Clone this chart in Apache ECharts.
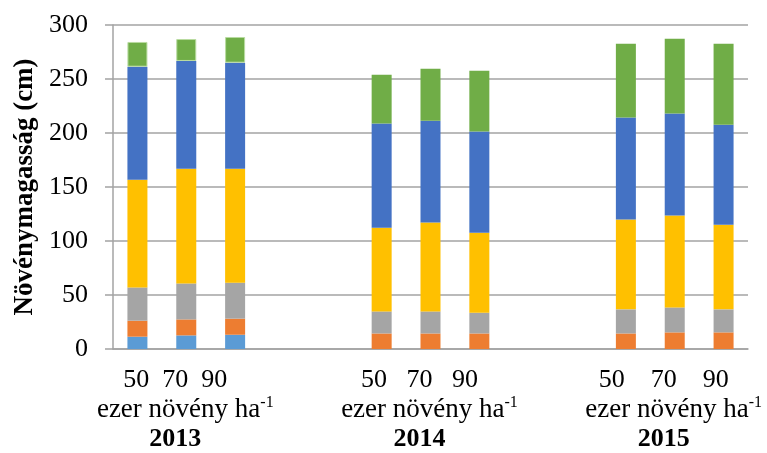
<!DOCTYPE html>
<html>
<head>
<meta charset="utf-8">
<script src="https://cdn.jsdelivr.net/npm/echarts@6/dist/echarts.min.js"></script>
<style>
  html, body { margin: 0; padding: 0; background: #ffffff; }
  #chart { width: 767px; height: 453px; }
</style>
</head>
<body>
<div id="chart"></div>
<script>
// Years and plant densities (thousand plants per hectare)
const years = ['2013', '2014', '2015'];
const densities = ['50', '70', '90'];
const densitySpacing = [2, 3, 4]; // spaces between the density numbers under each year
const unitLabel = 'ezer növény ha';
const unitExponent = '-1';
const yTicks = [0, 50, 100, 150, 200, 250, 300];
const yTitle = 'Növénymagasság (cm)';

// Stacked segment heights (cm): 50/70/90 for 2013, then 2014, then 2015
const stage1 = [11.4, 12.6, 13.2, null, null, null, null, null, null];
const stage2 = [14.8, 14.8, 14.9, 14.4, 14.4, 14.4, 14.4, 15.4, 15.4];
const stage3 = [30.8, 33.3, 33.3, 20.4, 20.4, 19.2, 22.3, 23.1, 21.3];
const stage4 = [99.8, 106.2, 105.5, 77.5, 82.4, 74.1, 83.3, 85.2, 78.4];
const stage5 = [104.6, 99.8, 98.2, 96.6, 94.2, 93.8, 94.4, 94.4, 92.6];
const stage6 = [22.9, 20.3, 23.8, 45.1, 48.1, 56.2, 68.3, 69.2, 75.0];

const stageColors = ['#5B9BD5', '#ED7D31', '#A5A5A5', '#FFC000', '#4472C4', '#70AD47'];

// Each year occupies 3 slots, separated by 2 empty slots
const GAP = 2;
const slotCount = years.length * densities.length + (years.length - 1) * GAP;
const slotOf = (g, i) => g * (densities.length + GAP) + i;

function toSlots(values) {
  const out = new Array(slotCount).fill(null);
  years.forEach((y, g) => densities.forEach((d, i) => {
    out[slotOf(g, i)] = values[g * densities.length + i];
  }));
  return out;
}

// Category labels: one text block under the middle bar of each year
const categories = new Array(slotCount).fill(0).map((_, k) => 'slot' + k);
const labelText = new Array(slotCount).fill('');
years.forEach((y, g) => {
  const mid = slotOf(g, Math.floor(densities.length / 2));
  labelText[mid] =
    '{d|' + densities.join(' '.repeat(densitySpacing[g])) + '}\n' +
    '{t|' + unitLabel + '}{s|' + unitExponent + '}\n' +
    '{y|' + y + '}';
});

const serif = '"Liberation Serif", "Times New Roman", serif';
const gridColor = '#a3a3a3';

const stages = [stage1, stage2, stage3, stage4, stage5, stage6];
const series = stages.map((vals, si) => {
  const data = toSlots(vals).map((v, k) => {
    // pale rim around the top segments of the 2013 bars
    if (si === 5 && v != null && k < densities.length) {
      return { value: v, itemStyle: { borderColor: '#b9dba0', borderWidth: 1 } };
    }
    return v;
  });
  return {
    name: 'stage' + (si + 1),
    type: 'bar',
    stack: 'height',
    barWidth: 20,
    data: data,
    itemStyle: { color: stageColors[si] },
    emphasis: { disabled: true },
    animation: false
  };
});

const chart = echarts.init(document.getElementById('chart'), null, { renderer: 'canvas' });
chart.setOption({
  backgroundColor: '#ffffff',
  animation: false,
  grid: { left: 113, right: 16, top: 25, bottom: 104, containLabel: false },
  xAxis: {
    type: 'category',
    data: categories,
    axisLine: { show: true, lineStyle: { color: gridColor, width: 1.5 } },
    axisTick: { show: false },
    axisLabel: {
      interval: 0,
      margin: 17,
      fontFamily: serif,
      color: '#000',
      formatter: (value, index) => labelText[index],
      rich: {
        d: { fontFamily: serif, fontSize: 26, lineHeight: 29, color: '#000', padding: [0, 22, 0, 0] },
        t: { fontFamily: serif, fontSize: 27, lineHeight: 30, color: '#000' },
        s: { fontFamily: serif, fontSize: 16, lineHeight: 20, verticalAlign: 'top', color: '#000', padding: [0, 2, 0, 0] },
        y: { fontFamily: serif, fontSize: 26, fontWeight: 'bold', lineHeight: 29, color: '#000', padding: [0, 22, 0, 0] }
      }
    },
    splitLine: { show: false }
  },
  yAxis: {
    type: 'value',
    min: yTicks[0],
    max: yTicks[yTicks.length - 1],
    interval: yTicks[1] - yTicks[0],
    name: yTitle,
    nameLocation: 'middle',
    nameGap: 73,
    nameRotate: 90,
    nameTextStyle: { fontFamily: serif, fontSize: 27, fontWeight: 'bold', color: '#000' },
    axisLine: { show: true, lineStyle: { color: gridColor, width: 1.5 } },
    axisTick: { show: true, length: 8, lineStyle: { color: gridColor, width: 1.5 } },
    axisLabel: { fontFamily: serif, fontSize: 26, color: '#000', margin: 25 },
    splitLine: { show: true, lineStyle: { color: gridColor, width: 1.5 } }
  },
  series: series
});
</script>
</body>
</html>
